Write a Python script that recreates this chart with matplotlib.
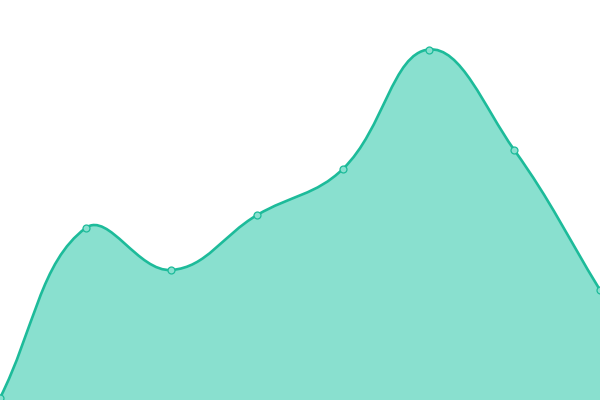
import numpy as np
import matplotlib
matplotlib.use('Agg')
import matplotlib.pyplot as plt
from matplotlib.path import Path
from matplotlib.patches import PathPatch

# values (y axis 0..400)
labels = [0, 1, 2, 3, 4, 5, 6, 7]
values = [2, 172, 130, 185, 231, 350.5, 250, 110]

line_color = '#1dbb9a'
fill_color = '#89e0cf'
tension = 0.4

fig = plt.figure(figsize=(6, 4), dpi=100)
ax = fig.add_axes([0, 0, 1, 1])
ax.set_xlim(0, 7)
ax.set_ylim(0, 400)
ax.axis('off')

# spline like chart.js, worked out in pixel space
pts = ax.transData.transform(np.column_stack([labels, values]))
n = len(pts)
verts = [pts[0]]
codes = [Path.MOVETO]
cps = []
for i in range(n):
    prev = pts[max(i - 1, 0)]
    cur = pts[i]
    nxt = pts[min(i + 1, n - 1)]
    d01 = np.hypot(*(cur - prev))
    d12 = np.hypot(*(nxt - cur))
    tot = d01 + d12
    s01 = d01 / tot if tot else 0
    s12 = d12 / tot if tot else 0
    cps.append((cur - tension * s01 * (nxt - prev), cur + tension * s12 * (nxt - prev)))
for i in range(1, n):
    verts += [cps[i - 1][1], cps[i][0], pts[i]]
    codes += [Path.CURVE4] * 3

inv = ax.transData.inverted()
line_verts = inv.transform(np.array(verts))
line_path = Path(line_verts, codes)

fill_verts = list(line_verts) + [(labels[-1], 0), (labels[0], 0), line_verts[0]]
fill_codes = codes + [Path.LINETO, Path.LINETO, Path.CLOSEPOLY]
ax.add_patch(PathPatch(Path(fill_verts, fill_codes), facecolor=fill_color, edgecolor='none'))
ax.add_patch(PathPatch(line_path, facecolor='none', edgecolor=line_color, linewidth=1.9))

ax.plot(labels, values, 'o', ms=5, mfc=fill_color, mec=line_color, mew=0.9, clip_on=True)

fig.savefig('out.png', dpi=100)
